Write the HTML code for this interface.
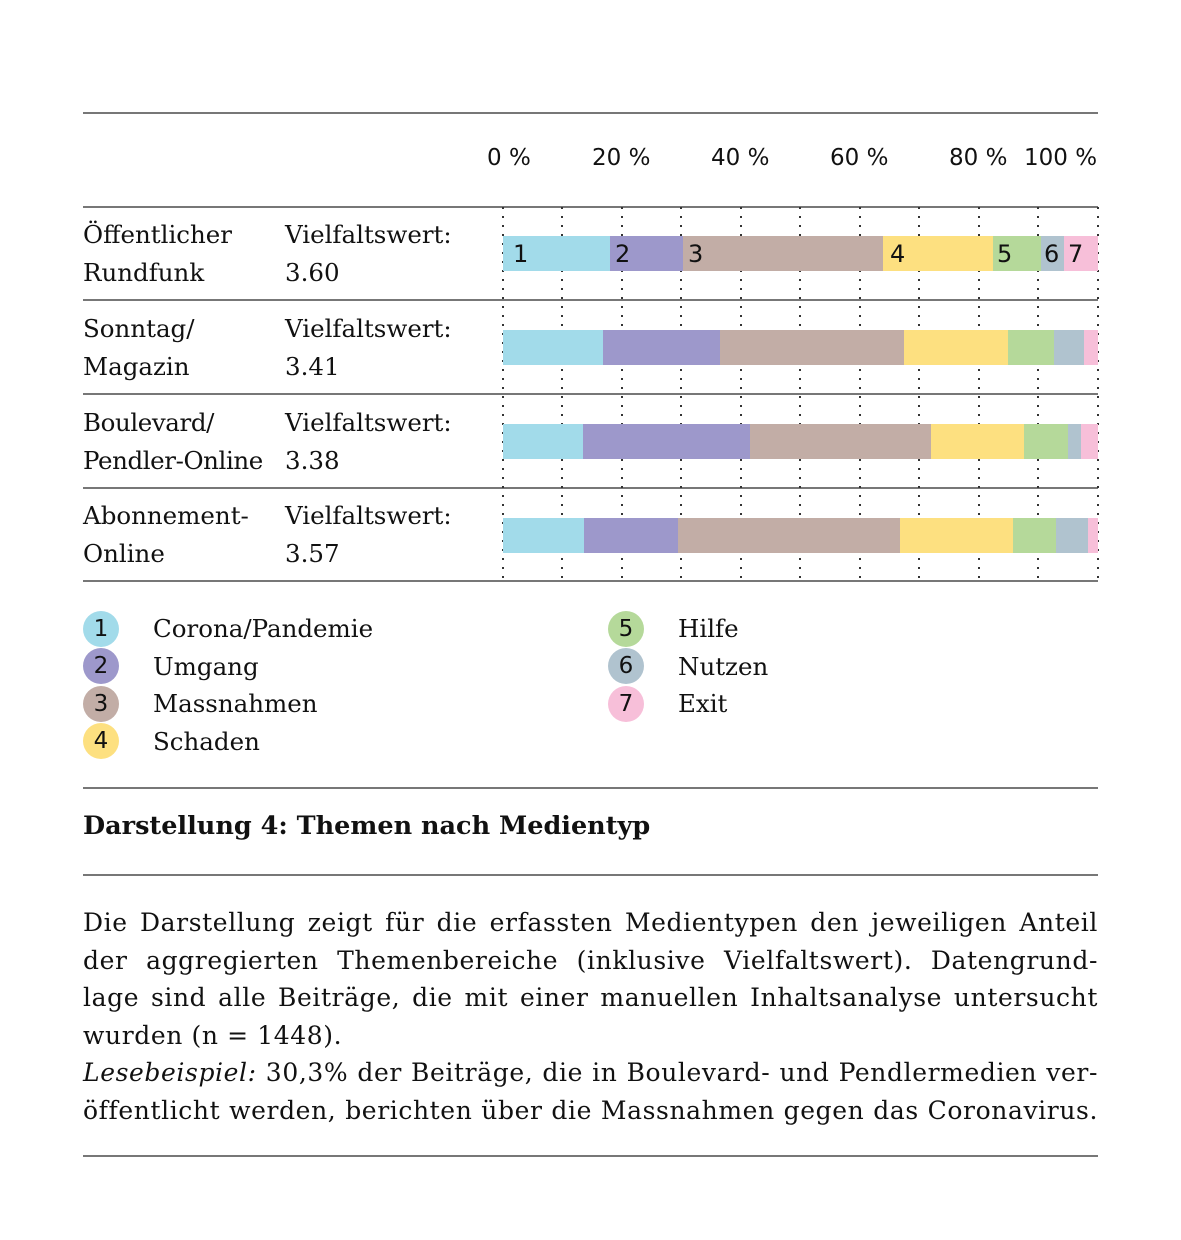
<!DOCTYPE html>
<html><head><meta charset="utf-8"><style>
body{margin:0;width:1181px;height:1240px;background:#fff;position:relative;overflow:hidden;font-family:"DejaVu Serif","Liberation Serif",serif;color:#111}
.a{position:absolute;white-space:nowrap}
.hl{position:absolute;left:83px;width:1015px;height:1.5px;background:#777}
.t{font-size:24.5px;line-height:38px}
.ax{font-family:"DejaVu Sans","Liberation Sans",sans-serif;font-size:23px;top:145px}
.g{position:absolute;top:207px;height:374px;width:2px;background:repeating-linear-gradient(to bottom,#333 0 2px,transparent 2px 9px)}
.bar{position:absolute;height:35px;font-family:"DejaVu Sans","Liberation Sans",sans-serif;font-size:24px;line-height:37px;padding-left:10px;box-sizing:border-box;overflow:hidden}
.c{position:absolute;left:83px;width:36px;height:36px;border-radius:50%;font-family:"DejaVu Sans","Liberation Sans",sans-serif;font-size:23px;text-align:center;line-height:36px}
.c2{left:608px}
.body{position:absolute;left:83px;width:1015px;top:904px;font-size:25px;line-height:37.5px;letter-spacing:0.6px}
.body div{text-align:justify;text-align-last:justify;white-space:nowrap}
.body div.l{text-align-last:left}
</style></head><body>
<div class="hl" style="top:112px"></div>
<div class="a ax" style="left:487px">0 %</div>
<div class="a ax" style="left:592px">20 %</div>
<div class="a ax" style="left:711px">40 %</div>
<div class="a ax" style="left:830px">60 %</div>
<div class="a ax" style="left:949px">80 %</div>
<div class="a ax" style="left:1024px">100 %</div>
<div class="hl" style="top:206px"></div>
<div class="hl" style="top:299px"></div>
<div class="hl" style="top:393px"></div>
<div class="hl" style="top:487px"></div>
<div class="hl" style="top:580px"></div>

<div class="a t" style="left:83px;top:216px">Öffentlicher<br>Rundfunk</div>
<div class="a t" style="left:285px;top:216px">Vielfaltswert:<br>3.60</div>
<div class="a t" style="left:83px;top:310px">Sonntag/<br>Magazin</div>
<div class="a t" style="left:285px;top:310px">Vielfaltswert:<br>3.41</div>
<div class="a t" style="left:83px;top:404px;letter-spacing:-0.4px">Boulevard/<br>Pendler-Online</div>
<div class="a t" style="left:285px;top:404px">Vielfaltswert:<br>3.38</div>
<div class="a t" style="left:83px;top:497px">Abonnement-<br>Online</div>
<div class="a t" style="left:285px;top:497px">Vielfaltswert:<br>3.57</div>

<div class="g" style="left:502px"></div><div class="g" style="left:561px"></div><div class="g" style="left:621px"></div><div class="g" style="left:680px"></div><div class="g" style="left:740px"></div><div class="g" style="left:799px"></div><div class="g" style="left:859px"></div><div class="g" style="left:918px"></div><div class="g" style="left:978px"></div><div class="g" style="left:1037px"></div><div class="g" style="left:1097px"></div>

<div class="bar" style="top:236px;left:503px;width:107px;background:#a2dbea">1</div>
<div class="bar" style="top:236px;left:610px;width:73px;background:#9d98cb;padding-left:5px">2</div>
<div class="bar" style="top:236px;left:683px;width:200px;background:#c2ada6;padding-left:5px">3</div>
<div class="bar" style="top:236px;left:883px;width:110px;background:#fde080;padding-left:7px">4</div>
<div class="bar" style="top:236px;left:993px;width:48px;background:#b5d99a;padding-left:4px">5</div>
<div class="bar" style="top:236px;left:1041px;width:23px;background:#b0c3cf;padding-left:3px">6</div>
<div class="bar" style="top:236px;left:1064px;width:34px;background:#f7bfd9;padding-left:4px">7</div>
<div class="bar" style="top:330px;left:503px;width:100px;background:#a2dbea"></div>
<div class="bar" style="top:330px;left:603px;width:117px;background:#9d98cb"></div>
<div class="bar" style="top:330px;left:720px;width:184px;background:#c2ada6"></div>
<div class="bar" style="top:330px;left:904px;width:104px;background:#fde080"></div>
<div class="bar" style="top:330px;left:1008px;width:46px;background:#b5d99a"></div>
<div class="bar" style="top:330px;left:1054px;width:30px;background:#b0c3cf"></div>
<div class="bar" style="top:330px;left:1084px;width:14px;background:#f7bfd9"></div>
<div class="bar" style="top:424px;left:503px;width:80px;background:#a2dbea"></div>
<div class="bar" style="top:424px;left:583px;width:167px;background:#9d98cb"></div>
<div class="bar" style="top:424px;left:750px;width:181px;background:#c2ada6"></div>
<div class="bar" style="top:424px;left:931px;width:93px;background:#fde080"></div>
<div class="bar" style="top:424px;left:1024px;width:44px;background:#b5d99a"></div>
<div class="bar" style="top:424px;left:1068px;width:13px;background:#b0c3cf"></div>
<div class="bar" style="top:424px;left:1081px;width:17px;background:#f7bfd9"></div>
<div class="bar" style="top:518px;left:503px;width:81px;background:#a2dbea"></div>
<div class="bar" style="top:518px;left:584px;width:94px;background:#9d98cb"></div>
<div class="bar" style="top:518px;left:678px;width:222px;background:#c2ada6"></div>
<div class="bar" style="top:518px;left:900px;width:113px;background:#fde080"></div>
<div class="bar" style="top:518px;left:1013px;width:43px;background:#b5d99a"></div>
<div class="bar" style="top:518px;left:1056px;width:32px;background:#b0c3cf"></div>
<div class="bar" style="top:518px;left:1088px;width:10px;background:#f7bfd9"></div>

<div class="c" style="top:611px;background:#a2dbea">1</div>
<div class="c" style="top:648px;background:#9d98cb">2</div>
<div class="c" style="top:686px;background:#c2ada6">3</div>
<div class="c" style="top:723px;background:#fde080">4</div>
<div class="c c2" style="top:611px;background:#b5d99a">5</div>
<div class="c c2" style="top:648px;background:#b0c3cf">6</div>
<div class="c c2" style="top:686px;background:#f7bfd9">7</div>
<div class="a t" style="left:153px;top:610px;line-height:37.5px">Corona/Pandemie<br>Umgang<br>Massnahmen<br>Schaden</div>
<div class="a t" style="left:678px;top:610px;line-height:37.5px">Hilfe<br>Nutzen<br>Exit</div>

<div class="hl" style="top:787px"></div>
<div class="a" style="left:83px;top:811px;font-size:25.5px;font-weight:bold">Darstellung 4: Themen nach Medientyp</div>
<div class="hl" style="top:874px"></div>
<div class="body">
<div>Die Darstellung zeigt für die erfassten Medientypen den jeweiligen Anteil</div>
<div>der aggregierten Themenbereiche (inklusive Vielfaltswert). Datengrund-</div>
<div>lage sind alle Beiträge, die mit einer manuellen Inhaltsanalyse untersucht</div>
<div class="l">wurden (n = 1448).</div>
<div><i>Lesebeispiel:</i> 30,3% der Beiträge, die in Boulevard- und Pendlermedien ver-</div>
<div>öffentlicht werden, berichten über die Massnahmen gegen das Coronavirus.</div>
</div>
<div class="hl" style="top:1155px"></div>
</body></html>
